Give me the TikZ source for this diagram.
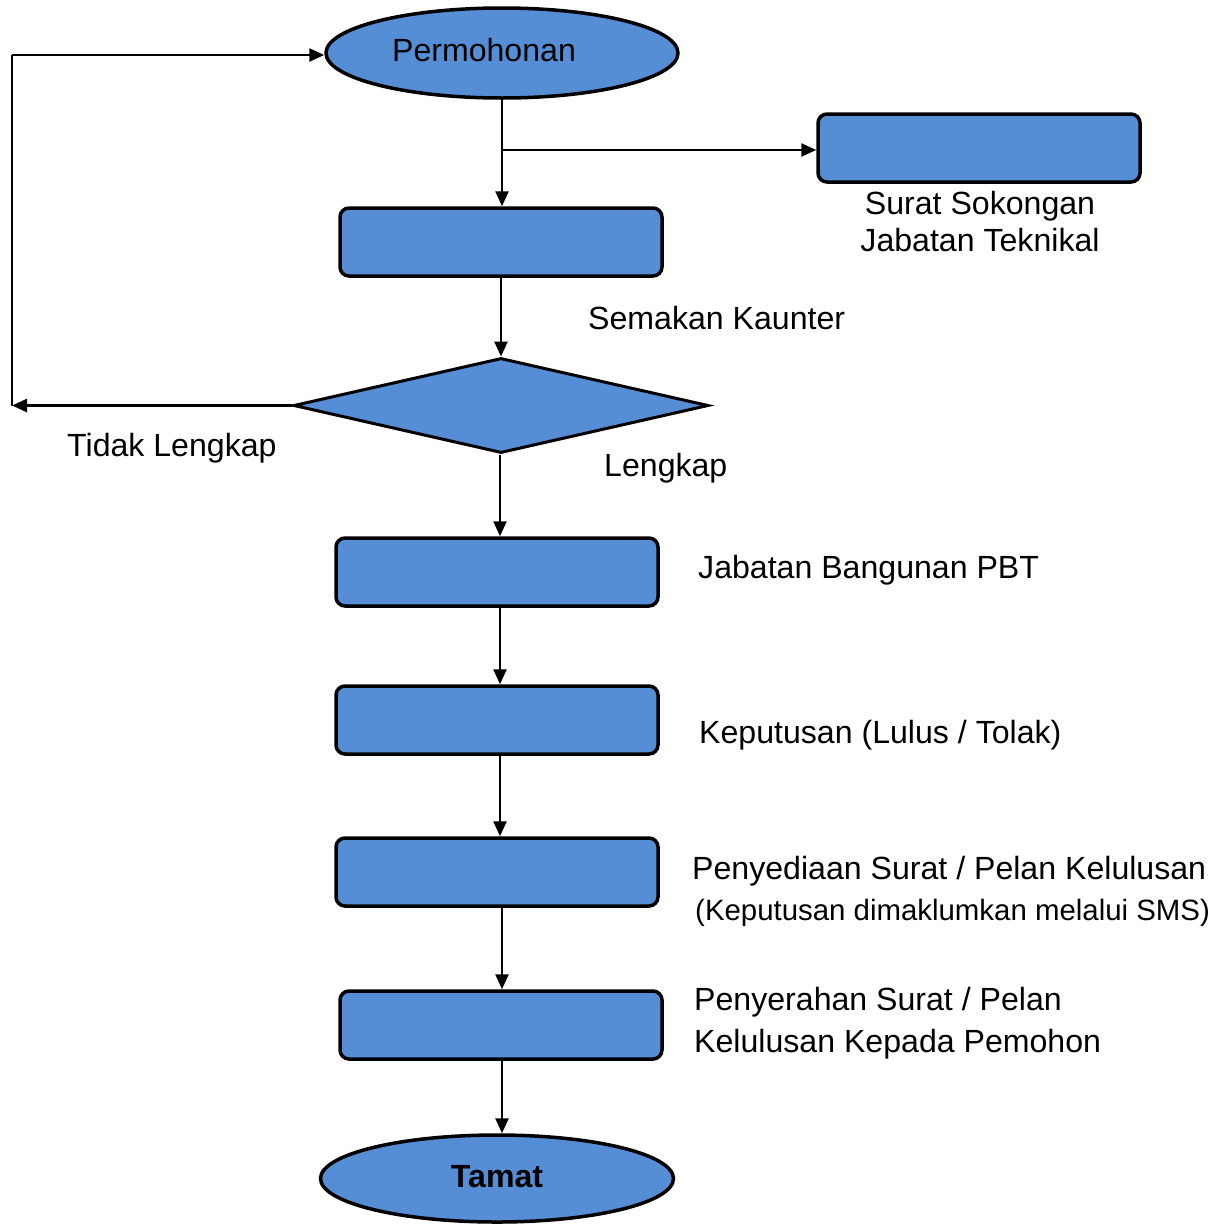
\documentclass[tikz,border=0pt]{standalone}
\usepackage{fontspec}
\setmainfont{Liberation Sans}
\usetikzlibrary{shapes.geometric,arrows.meta}
\definecolor{boxblue}{RGB}{85,142,213}
\tikzset{
  shapeline/.style={draw=black,line width=3.5pt,fill=boxblue,inner sep=0pt},
  procbox/.style={shapeline,rectangle,rounded corners=9pt,minimum width=322pt,minimum height=68pt},
  termbox/.style={shapeline,ellipse},
  decbox/.style={draw=black,line width=3pt,fill=boxblue,diamond,inner sep=0pt,minimum width=415pt,minimum height=95pt},
  conn/.style={line width=2.5pt,-{Triangle[length=15pt,width=13pt]}},
  plain/.style={line width=2.5pt},
  lbl/.style={inner sep=0pt,font=\fontsize{32.1}{38}\selectfont},
  smalllbl/.style={inner sep=0pt,font=\fontsize{29.4}{34}\selectfont},
}
\begin{document}
\begin{tikzpicture}[x=1pt,y=-1pt]
\useasboundingbox (0,0) rectangle (1225,1224);
% shapes
\node[termbox,minimum width=352pt,minimum height=90pt] (start) at (502,53) {};
\node[procbox] (side) at (979,148) {};
\node[procbox] (b1) at (501,242) {};
\node[decbox] (dec) at (501,405.5) {};
\node[procbox] (b2) at (497,572) {};
\node[procbox] (b3) at (497,720) {};
\node[procbox] (b4) at (497,872) {};
\node[procbox] (b5) at (501,1025) {};
\node[termbox,minimum width=353pt,minimum height=87pt] (end) at (497,1178.5) {};
% texts
\node[lbl,anchor=base] (tstart) at (484,61) {Permohonan};
\node[lbl,anchor=base] (tside1) at (980,214) {Surat Sokongan};
\node[lbl,anchor=base] (tside2) at (980,251) {Jabatan Teknikal};
\node[lbl,anchor=base west] (tsem) at (588,329) {Semakan Kaunter};
\node[lbl,anchor=base west] (ttl) at (67,456) {Tidak Lengkap};
\node[lbl,anchor=base west] (tl) at (604,476) {Lengkap};
\node[lbl,anchor=base west] (tb2) at (698,578) {Jabatan Bangunan PBT};
\node[lbl,anchor=base west] (tb3) at (699,743) {Keputusan (Lulus / Tolak)};
\node[lbl,anchor=base west] (tb4a) at (692,879) {Penyediaan Surat / Pelan Kelulusan};
\node[smalllbl,anchor=base west] (tb4b) at (695,920) {(Keputusan dimaklumkan melalui SMS)};
\node[lbl,anchor=base west] (tb5a) at (694,1010) {Penyerahan Surat / Pelan};
\node[lbl,anchor=base west] (tb5b) at (694,1052) {Kelulusan Kepada Pemohon};
\node[lbl,anchor=base,font=\fontsize{32.1}{38}\selectfont\bfseries] (tend) at (497,1187) {Tamat};
% connectors
\coordinate (br) at (502,150);
\coordinate (lb) at (12,405.5);
\coordinate (lt) at (12,55);
\draw[conn] (502,98) -- (b1.north -| 502,0);
\draw[conn] (br) -- (side.west |- br);
\draw[conn] (b1.south) -- (dec.north);
\draw[conn] (dec.west) -- (lb);
\draw[plain] (lb) -- (lt);
\draw[conn] (lt) -- (start.west |- lt);
\draw[conn] (dec.south -| 500,0) -- (b2.north -| 500,0);
\draw[conn] (b2.south -| 500,0) -- (b3.north -| 500,0);
\draw[conn] (b3.south -| 500,0) -- (b4.north -| 500,0);
\draw[conn] (b4.south -| 502,0) -- (b5.north -| 502,0);
\draw[conn] (b5.south -| 502,0) -- (end.north -| 502,0);
\end{tikzpicture}
\end{document}
